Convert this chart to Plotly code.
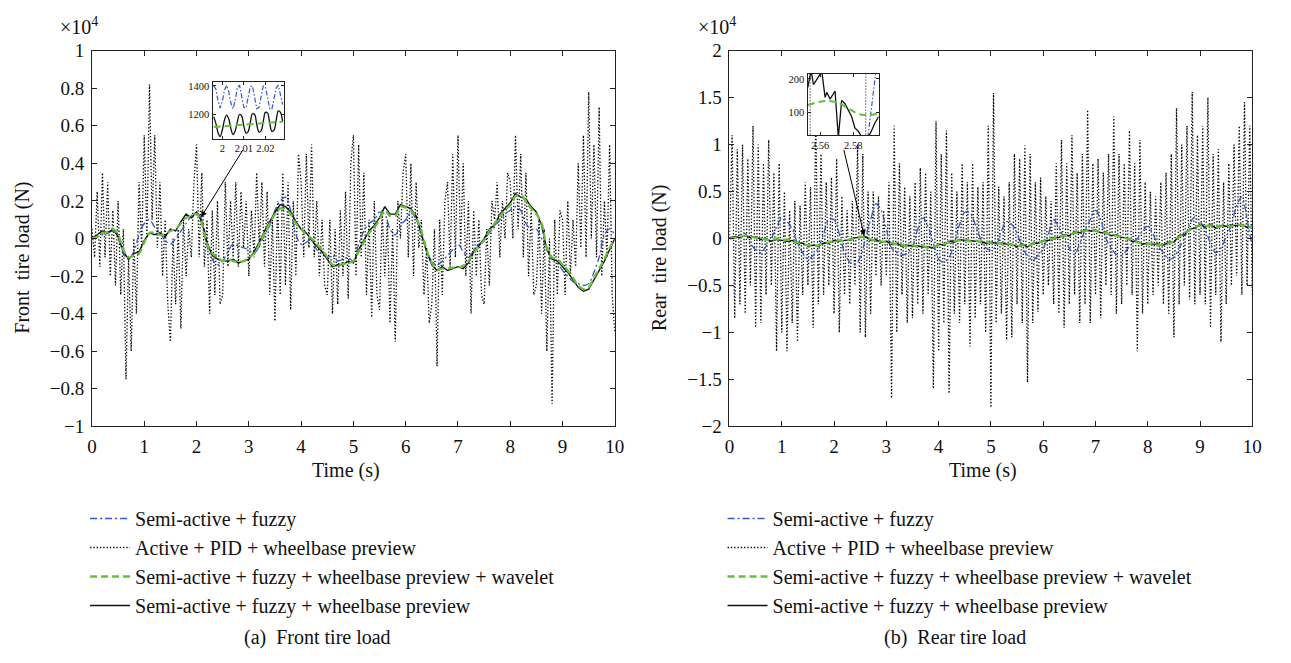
import plotly.graph_objects as go

FONT = "Liberation Serif, Times New Roman, serif"
BLUE = "#3657c9"
GREEN = "#62c236"
BLACK = "#111111"

# ---------------- sample times ----------------
t_slow = [round(i * 0.1, 1) for i in range(101)]
t_fast = [round(i * 0.05, 2) for i in range(201)]

# ---------------- front tire load (x1e4 N) ----------------
front_fuzzy = [
    0.0, 0.01, 0.02, 0.03, 0.04, 0.02, -0.08, -0.11, -0.07, 0.02,
    0.08, 0.1, 0.06, 0.03, -0.01, -0.03, 0.0, 0.04, 0.08, 0.12,
    0.14, 0.1, -0.04, -0.11, -0.14, -0.12, -0.07, -0.03, -0.04, -0.05,
    -0.06, -0.08, -0.04, 0.02, 0.07, 0.15, 0.2, 0.22, 0.15, 0.02,
    -0.03, -0.02, 0.0, -0.06, -0.08, -0.1, -0.09, -0.12, -0.11, -0.1,
    -0.12, -0.03, 0.04, 0.08, 0.1, 0.14, 0.13, 0.05, 0.02, 0.07,
    0.1, 0.14, 0.1, 0.02, -0.06, -0.12, -0.14, -0.12, -0.09, -0.06,
    -0.03, -0.07, -0.1, -0.06, -0.03, -0.01, 0.03, 0.06, 0.1, 0.13,
    0.15, 0.17, 0.15, 0.08, 0.05, 0.05, 0.0, -0.05, -0.1, -0.13,
    -0.17, -0.2, -0.23, -0.24, -0.25, -0.24, -0.18, -0.1, 0.02, 0.05,
    0.02,
]
front_pid = [
    0.05, -0.1, 0.25, -0.15, 0.35, -0.1, 0.3, -0.2, 0.15, -0.25,
    0.2, -0.3, 0.05, -0.75, -0.1, -0.6, 0.0, -0.4, 0.3, -0.05,
    0.55, 0.0, 0.82, 0.1, 0.55, -0.05, 0.3, -0.2, 0.1, -0.35,
    -0.55, 0.0, -0.35, 0.05, -0.48, 0.1, -0.2, 0.05, -0.1, 0.3,
    0.5, -0.1, 0.35, -0.15, 0.1, -0.4, 0.15, -0.3, 0.2, -0.35,
    -0.3, 0.3, -0.15, 0.2, -0.1, 0.3, -0.15, 0.25, -0.05, 0.2,
    -0.2, 0.15, -0.1, 0.35, -0.05, 0.3, -0.15, 0.25, -0.3, 0.1,
    -0.44, 0.2, -0.3, 0.35, -0.25, 0.3, -0.38, 0.2, -0.2, 0.45,
    0.3, -0.1, 0.45, -0.05, 0.5, -0.1, 0.2, -0.2, 0.1, -0.25,
    -0.3, 0.1, -0.4, 0.05, -0.35, 0.15, -0.2, 0.25, -0.32, 0.4,
    0.55, -0.2, 0.5, -0.1, 0.35, -0.3, 0.1, -0.42, 0.2, -0.3,
    -0.38, 0.15, -0.2, 0.1, -0.45, 0.05, -0.55, 0.2, 0.0, 0.35,
    0.45, -0.1, 0.4, -0.2, 0.3, -0.05, 0.1, -0.3, -0.05, -0.45,
    -0.35, 0.05, -0.68, 0.1, -0.3, 0.2, 0.3, -0.15, 0.45, -0.1,
    0.55, -0.05, 0.4, -0.2, 0.2, -0.4, 0.15, -0.2, 0.1, -0.3,
    -0.35, 0.05, -0.25, 0.2, 0.1, 0.3, -0.1, 0.2, 0.0, 0.35,
    0.3, 0.0, 0.55, 0.05, 0.45, -0.1, 0.35, -0.2, 0.15, -0.3,
    -0.25, 0.1, -0.4, 0.05, -0.6, 0.0, -0.88, 0.1, -0.3, 0.15,
    0.1, -0.3, 0.2, -0.2, 0.1, -0.15, 0.4, -0.05, 0.55, -0.1,
    0.78, 0.0, 0.5, -0.1, 0.7, -0.2, 0.2, -0.1, 0.5, -0.3,
    -0.5,
]
front_wavelet = [
    0.0, 0.01, 0.03, 0.035, 0.05, 0.02, -0.06, -0.1, -0.09, -0.08,
    -0.02, 0.03, 0.03, 0.02, 0.02, 0.04, 0.05, 0.08, 0.11, 0.12,
    0.13, 0.08, -0.03, -0.08, -0.1, -0.12, -0.11, -0.12, -0.125, -0.12,
    -0.1, -0.08, -0.03, 0.03, 0.08, 0.13, 0.16, 0.155, 0.13, 0.08,
    0.05, 0.02, 0.0, -0.03, -0.06, -0.1, -0.14, -0.145, -0.135, -0.13,
    -0.12, -0.07, -0.02, 0.03, 0.06, 0.1, 0.15, 0.12, 0.12, 0.17,
    0.165, 0.15, 0.11, 0.04, -0.06, -0.13, -0.165, -0.16, -0.16, -0.155,
    -0.155, -0.145, -0.12, -0.08, -0.04, -0.01, 0.04, 0.08, 0.12, 0.15,
    0.18, 0.225, 0.23, 0.2, 0.16, 0.13, 0.08, -0.05, -0.1, -0.11,
    -0.14, -0.17, -0.21, -0.25, -0.27, -0.26, -0.21, -0.16, -0.11, -0.05,
    0.0,
]
front_preview = [
    0.0, 0.02, 0.04, 0.03, 0.05, 0.01, -0.07, -0.11, -0.08, -0.07,
    -0.01, 0.03, 0.02, 0.03, 0.01, 0.05, 0.04, 0.09, 0.13, 0.11,
    0.14, 0.09, -0.02, -0.09, -0.11, -0.12, -0.12, -0.11, -0.13, -0.12,
    -0.11, -0.07, -0.02, 0.04, 0.09, 0.14, 0.18, 0.17, 0.14, 0.09,
    0.05, 0.03, -0.01, -0.04, -0.07, -0.11, -0.15, -0.14, -0.14, -0.12,
    -0.13, -0.06, -0.01, 0.04, 0.07, 0.11, 0.17, 0.13, 0.13, 0.18,
    0.17, 0.16, 0.12, 0.03, -0.07, -0.14, -0.17, -0.15, -0.17, -0.16,
    -0.15, -0.16, -0.13, -0.07, -0.04, 0.0, 0.05, 0.07, 0.13, 0.16,
    0.19, 0.24, 0.22, 0.21, 0.17, 0.14, 0.07, -0.06, -0.11, -0.12,
    -0.15, -0.18, -0.22, -0.26, -0.28, -0.27, -0.22, -0.17, -0.12, -0.06,
    0.0,
]

# ---------------- rear tire load (x1e4 N) ----------------
rear_fuzzy = [
    0.0, 0.02, 0.04, 0.05, -0.05, -0.12, -0.15, -0.08, 0.0, 0.12,
    0.22, 0.18, 0.1, -0.05, -0.15, -0.22, -0.18, -0.1, 0.05, 0.2,
    0.2, 0.05, -0.15, -0.25, -0.28, -0.2, 0.0, 0.2, 0.37, 0.3,
    0.1, -0.1, -0.15, -0.18, -0.15, -0.08, 0.1, 0.22, 0.12, -0.05,
    -0.22, -0.25, -0.2, -0.05, 0.15, 0.28, 0.27, 0.15, 0.0, -0.1,
    -0.12, -0.08, 0.08, 0.18, 0.15, 0.06, -0.1, -0.18, -0.23, -0.18,
    -0.11, 0.05, 0.2, 0.12, 0.0, -0.1, -0.17, -0.05, 0.09, 0.2,
    0.3, 0.2, 0.0, -0.1, -0.17, -0.18, -0.12, -0.05, 0.0, 0.08,
    0.13, 0.05, -0.08, -0.15, -0.22, -0.2, -0.1, 0.0, 0.15, 0.23,
    0.18, 0.09, -0.05, -0.15, -0.1, 0.02, 0.15, 0.35, 0.44, 0.2,
    -0.1,
]
rear_pid = [
    0.0, 1.1, -0.85, 0.95, -0.7, 1.0, -0.8, 0.85, -0.5, 1.2,
    -0.95, 1.0, -0.9, 0.8, -0.6, 1.05, -0.5, 0.7, -1.2, 0.8,
    -1.0, 0.5, -1.2, 0.3, -0.9, 0.4, -1.1, 0.35, -0.6, 0.6,
    -0.5, 0.55, -0.95, 1.3, -0.7, 0.9, -0.6, 0.6, -0.5, 0.65,
    -0.8, 0.85, -1.0, 0.45, -0.6, 0.3, -0.7, 0.4, -0.5, 1.0,
    -1.0, 0.9, -1.05, 0.5, -0.8, 0.5, -0.4, 0.45, -0.5, 0.3,
    -0.4, 0.6, -1.7, 1.2, -1.0, 0.8, -0.6, 0.55, -0.9, 0.45,
    -0.85, 0.6, -0.7, 0.75, -0.8, 0.7, -0.6, 0.5, -1.6, 1.25,
    -1.2, 0.9, -0.9, 1.15, -1.65, 0.7, -0.8, 0.5, -0.9, 0.8,
    -0.7, 0.6, -1.15, 0.8, -0.85, 0.55, -0.7, 0.6, -1.0, 1.2,
    -1.8, 1.55, -0.9, 0.55, -0.8, 0.45, -1.08, 0.6, -1.05, 0.9,
    -0.7, 0.85, -0.9, 0.99, -1.53, 0.9, -0.9, 0.6, -0.78, 0.65,
    -0.6, 0.45, -0.5, 0.4, -0.7, 0.8, -0.8, 1.05, -0.95, 0.8,
    -0.7, 1.1, -0.6, 0.7, -0.9, 0.9, -0.7, 1.37, -0.9, 0.8,
    -0.6, 0.85, -0.85, 0.7, -0.5, 0.9, -0.6, 1.3, -0.8, 0.9,
    -0.7, 0.8, -0.5, 1.15, -0.6, 0.8, -1.2, 1.05, -0.8, 0.6,
    -0.7, 0.5, -0.6, 0.45, -0.5, 0.6, -0.7, 0.7, -0.8, 0.9,
    -1.05, 1.39, -0.7, 1.0, -0.5, 1.2, -0.65, 1.56, -0.7, 1.1,
    -0.6, 1.2, -0.7, 1.5, -0.95, 0.9, -0.6, 0.95, -1.1, 0.6,
    -0.7, 0.8, -0.5, 1.0, -0.4, 1.2, -0.6, 1.45, -0.5, 1.2,
    -0.6,
]
rear_wavelet = [
    0.0, 0.01, 0.02, 0.03, 0.02, 0.01, 0.0, -0.01, -0.02, 0.0,
    -0.02, -0.01, -0.03, -0.04, -0.06, -0.07, -0.08, -0.07, -0.05, -0.04,
    -0.03, -0.02, -0.03, -0.01, 0.0, 0.02, 0.01, -0.01, -0.02, -0.03,
    -0.04, -0.05, -0.06, -0.07, -0.08, -0.07, -0.09, -0.08, -0.1, -0.09,
    -0.07, -0.06, -0.04, -0.03, -0.02, -0.01, -0.03, -0.02, -0.04, -0.03,
    -0.05, -0.04, -0.06, -0.05, -0.07, -0.08, -0.07, -0.08, -0.06, -0.04,
    -0.03, -0.01, 0.0, 0.02, 0.03, 0.04, 0.06, 0.07, 0.08, 0.09,
    0.08, 0.07, 0.06, 0.04, 0.03, 0.02, 0.0, -0.02, -0.04, -0.05,
    -0.06, -0.05, -0.07, -0.06, -0.05, -0.03, 0.02, 0.05, 0.09, 0.12,
    0.14, 0.13, 0.14, 0.12, 0.13, 0.14, 0.13, 0.15, 0.14, 0.13,
    0.12,
]
rear_preview = [
    0.01, 0.02, 0.01, 0.03, 0.01, 0.02, -0.01, 0.0, -0.03, -0.01,
    -0.02, -0.03, -0.02, -0.05, -0.05, -0.08, -0.07, -0.08, -0.05, -0.05,
    -0.02, -0.03, -0.02, -0.02, 0.01, 0.01, 0.02, -0.02, -0.01, -0.04,
    -0.03, -0.06, -0.05, -0.08, -0.07, -0.08, -0.08, -0.09, -0.09, -0.1,
    -0.06, -0.07, -0.03, -0.04, -0.01, -0.02, -0.02, -0.03, -0.03, -0.05,
    -0.04, -0.05, -0.05, -0.06, -0.06, -0.09, -0.06, -0.09, -0.05, -0.05,
    -0.02, -0.02, 0.01, 0.01, 0.04, 0.03, 0.07, 0.06, 0.09, 0.08,
    0.09, 0.06, 0.07, 0.03, 0.04, 0.01, 0.01, -0.03, -0.03, -0.06,
    -0.05, -0.06, -0.06, -0.07, -0.04, -0.04, 0.03, 0.04, 0.1, 0.11,
    0.15, 0.12, 0.15, 0.11, 0.14, 0.13, 0.14, 0.14, 0.15, 0.12,
    0.13,
]

# ---------------- inset data (N) ----------------
inA_t = [1.996, 1.997, 1.998, 1.999, 2.000, 2.001, 2.002, 2.003, 2.004, 2.005, 2.006,
         2.007, 2.008, 2.009, 2.010, 2.011, 2.012, 2.013, 2.014, 2.015, 2.016, 2.017,
         2.018, 2.019, 2.020, 2.021, 2.022, 2.023, 2.024, 2.025, 2.026, 2.027, 2.028]
inA_fuzzy = [1400, 1380, 1300, 1245, 1290, 1370, 1405, 1360, 1280, 1240, 1300,
             1390, 1405, 1330, 1250, 1245, 1320, 1395, 1400, 1320, 1240, 1250,
             1330, 1400, 1395, 1310, 1240, 1235, 1310, 1385, 1405, 1340, 1270]
inA_preview = [1185, 1140, 1075, 1045, 1090, 1160, 1195, 1170, 1100, 1060, 1085,
               1150, 1200, 1190, 1120, 1070, 1080, 1145, 1205, 1200, 1130, 1078,
               1085, 1150, 1215, 1210, 1140, 1082, 1090, 1160, 1225, 1215, 1150]
inA_wav_t = [1.996, 2.004, 2.012, 2.020, 2.028]
inA_wavelet = [1112, 1122, 1132, 1140, 1150]

inB_pre_t = [2.5525, 2.5545, 2.556, 2.559, 2.561, 2.563, 2.564, 2.566, 2.568, 2.569, 2.571,
             2.573, 2.575, 2.577, 2.579, 2.581, 2.583, 2.585, 2.589, 2.591, 2.593, 2.5954]
inB_preview = [174, 225, 183, 208, 222, 145, 160, 140, 155, 164, 25,
               136, 126, 107, 88, 54, 44, 28, 26, 45, 68, 88]
inB_wav_t = [2.5525, 2.56, 2.565, 2.57, 2.575, 2.58, 2.585, 2.59, 2.5954]
inB_wavelet = [122, 132, 134, 130, 118, 103, 93, 92, 98]
inB_pid_t = [2.553, 2.555, 2.5705, 2.586, 2.589]
inB_pid = [3000, -3000, -8000, -3000, 3000]
inB_fuz_t = [2.585, 2.5955]
inB_fuzzy = [-130, 296]

fig = go.Figure()

def add_main(xa, ya, leg, fuzzy, pid, wav, pre):
    fig.add_trace(go.Scatter(x=t_fast, y=pid, xaxis=xa, yaxis=ya, mode="lines",
                             line=dict(color="#000000", width=1.3, dash="1.3px,2px"),
                             name="Active + PID + wheelbase preview", legend=leg, legendrank=2))
    fig.add_trace(go.Scatter(x=t_slow, y=fuzzy, xaxis=xa, yaxis=ya, mode="lines",
                             line=dict(color=BLUE, width=1.3, dash="7px,3px,2px,3px", shape="spline"),
                             name="Semi-active + fuzzy", legend=leg, legendrank=1))
    fig.add_trace(go.Scatter(x=t_slow, y=pre, xaxis=xa, yaxis=ya, mode="lines",
                             line=dict(color=BLACK, width=1.4),
                             name="Semi-active + fuzzy + wheelbase preview", legend=leg, legendrank=4))
    fig.add_trace(go.Scatter(x=t_slow, y=wav, xaxis=xa, yaxis=ya, mode="lines",
                             line=dict(color=GREEN, width=2.3, dash="7px,4px", shape="spline"),
                             name="Semi-active + fuzzy + wheelbase preview + wavelet", legend=leg,
                             legendrank=3))

add_main("x", "y", "legend", front_fuzzy, front_pid, front_wavelet, front_preview)
add_main("x2", "y2", "legend2", rear_fuzzy, rear_pid, rear_wavelet, rear_preview)

# insets
fig.add_trace(go.Scatter(x=inA_t, y=inA_fuzzy, xaxis="x3", yaxis="y3", mode="lines", showlegend=False,
                         line=dict(color=BLUE, width=1.2, dash="5px,2px,1.5px,2px")))
fig.add_trace(go.Scatter(x=inA_t, y=inA_preview, xaxis="x3", yaxis="y3", mode="lines", showlegend=False,
                         line=dict(color=BLACK, width=1.3, shape="spline")))
fig.add_trace(go.Scatter(x=inA_wav_t, y=inA_wavelet, xaxis="x3", yaxis="y3", mode="lines", showlegend=False,
                         line=dict(color=GREEN, width=2, dash="7px,4px")))

fig.add_trace(go.Scatter(x=inB_pid_t, y=inB_pid, xaxis="x4", yaxis="y4", mode="lines", showlegend=False,
                         line=dict(color="#000000", width=1, dash="1px,2px")))
fig.add_trace(go.Scatter(x=inB_fuz_t, y=inB_fuzzy, xaxis="x4", yaxis="y4", mode="lines", showlegend=False,
                         line=dict(color=BLUE, width=1.2, dash="5px,2px,1.5px,2px")))
fig.add_trace(go.Scatter(x=inB_pre_t, y=inB_preview, xaxis="x4", yaxis="y4", mode="lines", showlegend=False,
                         line=dict(color=BLACK, width=1.3)))
fig.add_trace(go.Scatter(x=inB_wav_t, y=inB_wavelet, xaxis="x4", yaxis="y4", mode="lines", showlegend=False,
                         line=dict(color=GREEN, width=2, dash="7px,4px", shape="spline")))

W, H = 1291, 663
def px(x):
    return x / W
def py(y):
    return 1 - y / H

axc = dict(showline=True, linecolor="#222", linewidth=1, mirror="ticks", ticks="inside",
           ticklen=5, tickcolor="#222", showgrid=False, zeroline=False, ticklabelstandoff=3,
           tickfont=dict(family=FONT, size=19, color="#111"))
inc = dict(showline=True, linecolor="#222", linewidth=1.2, mirror="ticks", ticks="inside",
           ticklen=3, tickcolor="#222", showgrid=False, zeroline=False,
           tickfont=dict(family=FONT, size=10.5, color="#111"))
legc = dict(y=py(505), xanchor="left", yanchor="top", itemwidth=40, bgcolor="rgba(0,0,0,0)",
            font=dict(family=FONT, size=20, color="#111"))

fig.update_layout(
    width=W, height=H, margin=dict(l=0, r=0, t=0, b=0),
    paper_bgcolor="white", plot_bgcolor="white",
    font=dict(family=FONT, size=20, color="#111"),
    xaxis=dict(domain=[px(88), px(617)], range=[0, 10], dtick=1, anchor="y", **axc),
    yaxis=dict(domain=[py(430), py(42)], range=[-1, 1], dtick=0.2, anchor="x", **axc),
    xaxis2=dict(domain=[px(733), px(1262)], range=[0, 10], dtick=1, anchor="y2", **axc),
    yaxis2=dict(domain=[py(430), py(42)], range=[-2, 2], dtick=0.5, anchor="x2", **axc),
    xaxis3=dict(domain=[px(210), px(282)], range=[1.9955, 2.0285], tickvals=[2, 2.01, 2.02],
                anchor="y3", **inc),
    yaxis3=dict(domain=[py(133), py(74)], range=[1030, 1430], tickvals=[1200, 1400],
                anchor="x3", **inc),
    xaxis4=dict(domain=[px(812), px(884)], range=[2.5524, 2.5954], tickvals=[2.56, 2.58],
                anchor="y4", **inc),
    yaxis4=dict(domain=[py(129), py(66)], range=[33, 215], tickvals=[100, 200],
                anchor="x4", **inc),
    legend=dict(x=px(81), **legc),
    legend2=dict(x=px(81 + 645), **legc),
)

ann = []
for off, ytitle, cap in [
    (0, "Front\u00a0 tire load (N)", "(a)\u00a0 Front tire load"),
    (645, "Rear\u00a0 tire load (N)", "(b)\u00a0 Rear tire load"),
]:
    ann.append(dict(text="\u00d710<sup>4</sup>", x=px(54 + off), y=py(17), xref="paper", yref="paper",
                    xanchor="left", yanchor="middle", showarrow=False, font=dict(size=20)))
    ann.append(dict(text=ytitle, x=px(18 + off), y=py(256), xref="paper", yref="paper",
                    textangle=-90, xanchor="center", yanchor="middle", showarrow=False, font=dict(size=20)))
    ann.append(dict(text="Time (s)", x=px(345 + off), y=py(476), xref="paper", yref="paper",
                    xanchor="center", yanchor="middle", showarrow=False, font=dict(size=20)))
    ann.append(dict(text=cap, x=px(316 + off), y=py(648), xref="paper", yref="paper",
                    xanchor="center", yanchor="middle", showarrow=False, font=dict(size=20)))

# arrows from insets to the zoomed points
ann.append(dict(x=2.085, y=0.113, xref="x", yref="y", ax=2.905, ay=0.48, axref="x", ayref="y",
                text="", showarrow=True, arrowhead=2, arrowsize=1.2, arrowwidth=1, arrowcolor="black"))
ann.append(dict(x=2.577, y=0.028, xref="x2", yref="y2", ax=2.18, ay=0.96, axref="x2", ayref="y2",
                text="", showarrow=True, arrowhead=2, arrowsize=1.2, arrowwidth=1, arrowcolor="black"))
fig.update_layout(annotations=ann)

fig.write_html("out.html", config={"displayModeBar": False},
               post_script="document.body.style.margin='0px';document.body.style.padding='0px';")
